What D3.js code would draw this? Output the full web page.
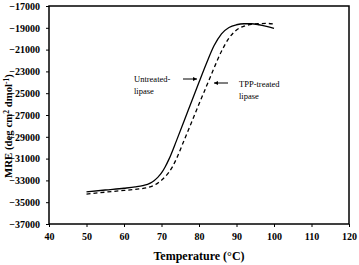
<!DOCTYPE html>
<html><head><meta charset="utf-8">
<script src="https://cdn.jsdelivr.net/npm/d3@7"></script>
<style>body{margin:0;background:#fff}svg{display:block}</style>
</head><body>
<script>
const temps = [50,55,60,63,65,67,68,69,70,71,72,74,76,78,80,82,84,86,88,90,92,94,96,98,100];
const untreated = [-34050,-33880,-33720,-33600,-33480,-33250,-33030,-32720,-32320,-31750,-31050,-29350,-27580,-25780,-24000,-22250,-20650,-19550,-18970,-18720,-18630,-18630,-18720,-18870,-19050];
const tppTemps = [50,55,60,64,66,68,69,70,71,72,73,74,76,78,80,82,84,86,88,90,92,94,96,98,100];
const tppTreated = [-34250,-34080,-33920,-33780,-33680,-33450,-33250,-32980,-32650,-32250,-31700,-31000,-29350,-27680,-26000,-24350,-22700,-21150,-19950,-19200,-18850,-18680,-18620,-18600,-18650];
const xTicks = [40,50,60,70,80,90,100,110,120];
const yTicks = [-17000,-19000,-21000,-23000,-25000,-27000,-29000,-31000,-33000,-35000,-37000];

const W=359,H=265;
const m={l:49,t:6,r:10,b:41};
const svg=d3.select("body").append("svg").attr("width",W).attr("height",H);
const x=d3.scaleLinear().domain([40,120]).range([m.l,W-m.r]);
const y=d3.scaleLinear().domain([-37000,-17000]).range([H-m.b,m.t]);
const font="'Liberation Serif','Times New Roman',serif";

svg.append("g").attr("transform",`translate(0,${H-m.b})`)
  .call(d3.axisBottom(x).tickValues(xTicks).tickSize(3).tickPadding(6).tickFormat(d3.format("d")))
  .call(g=>{g.select(".domain").remove();g.selectAll("text").attr("font-family",font).attr("font-weight","bold").attr("font-size",10).attr("fill","#000");});
svg.append("g").attr("transform",`translate(${m.l},0)`)
  .call(d3.axisLeft(y).tickValues(yTicks).tickSize(3).tickPadding(6).tickFormat(d3.format("d")))
  .call(g=>{g.select(".domain").remove();g.selectAll("text").attr("font-family",font).attr("font-weight","bold").attr("font-size",10).attr("fill","#000");});

svg.append("rect").attr("x",m.l).attr("y",m.t).attr("width",W-m.r-m.l).attr("height",H-m.b-m.t)
  .attr("fill","none").attr("stroke","#000").attr("stroke-width",1.5);

const line=d3.line().curve(d3.curveMonotoneX);
svg.append("path").attr("d",line(temps.map((t,i)=>[x(t),y(untreated[i])])))
  .attr("fill","none").attr("stroke","#000").attr("stroke-width",1.3);
svg.append("path").attr("d",line(tppTemps.map((t,i)=>[x(t),y(tppTreated[i])])))
  .attr("fill","none").attr("stroke","#000").attr("stroke-width",1.3).attr("stroke-dasharray","4,3");

// labels
svg.append("text").attr("x",(m.l+W-m.r)/2).attr("y",260).attr("text-anchor","middle")
  .attr("font-family",font).attr("font-weight","bold").attr("font-size",12).text("Temperature (°C)");
const yl=svg.append("text").attr("transform","translate(12,126) rotate(-90)").attr("text-anchor","middle")
  .attr("font-family",font).attr("font-weight","bold").attr("font-size",10.8);
yl.append("tspan").text("MRE (deg cm");
yl.append("tspan").attr("font-size",7.5).attr("dy",-3).text("2");
yl.append("tspan").attr("dy",3).text(" dmol");
yl.append("tspan").attr("font-size",7.5).attr("dy",-3).text("-1");
yl.append("tspan").attr("dy",3).text(")");

function ann(tx,ty,lines){
  const t=svg.append("text").attr("font-family",font).attr("font-size",8.5);
  lines.forEach((s,i)=>t.append("tspan").attr("x",tx).attr("y",ty+i*12).text(s));
}
ann(134,82,["Untreated-","lipase"]);
ann(239,87,["TPP-treated","lipase"]);

function arrow(x1,x2,yy){
  svg.append("line").attr("x1",x1).attr("x2",x2).attr("y1",yy).attr("y2",yy).attr("stroke","#000").attr("stroke-width",1);
  const d=x2>x1?1:-1;
  svg.append("path").attr("d",`M${x2},${yy}L${x2-4*d},${yy-2}L${x2-4*d},${yy+2}Z`).attr("fill","#000");
}
arrow(183,197,79);
arrow(228,214,83);
</script>
</body></html>
